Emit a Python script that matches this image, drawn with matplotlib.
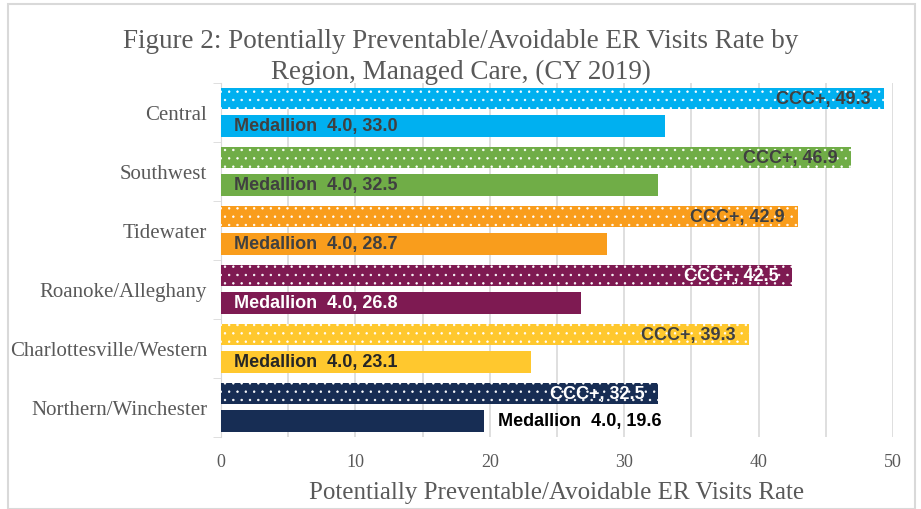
import numpy as np
import matplotlib.pyplot as plt
from matplotlib.patches import Rectangle

regions = ["Central", "Southwest", "Tidewater", "Roanoke/Alleghany",
           "Charlottesville/Western", "Northern/Winchester"]
ccc_plus = [49.3, 46.9, 42.9, 42.5, 39.3, 32.5]
medallion = [33.0, 32.5, 28.7, 26.8, 23.1, 19.6]
colors = ["#00B0F0", "#70AD47", "#F99D1C", "#7E1A52", "#FFC82E", "#172D54"]
ccc_text = ["#404040", "#404040", "#404040", "white", "#404040", "white"]
med_text = ["#404040", "#404040", "#404040", "white", "#262626", "black"]

plt.rcParams['hatch.linewidth'] = 0.5

fig = plt.figure(figsize=(9.21, 5.1), dpi=100)
ax = fig.add_axes([0.24, 0.142, 0.7296, 0.694])

y = np.arange(len(regions))
h = 0.37
off = 0.23

for i in range(len(regions)):
    ax.barh(y[i] - off, ccc_plus[i], height=h, color=colors[i],
            edgecolor="white", linewidth=0, hatch="..", zorder=3)
    ax.barh(y[i] + off, medallion[i], height=h, color=colors[i],
            linewidth=0, zorder=3)
    ax.text(ccc_plus[i] - 1.0, y[i] - off, f"CCC+, {ccc_plus[i]:.1f}",
            ha="right", va="center", fontsize=13, fontweight="bold",
            color=ccc_text[i], family="Liberation Sans", zorder=4)
    label = f"Medallion  4.0, {medallion[i]:.1f}"
    if i == len(regions) - 1:
        ax.text(medallion[i] + 1.0, y[i] + off, label, ha="left", va="center",
                fontsize=13, fontweight="bold", color=med_text[i],
                family="Liberation Sans", zorder=4)
    else:
        ax.text(1.0, y[i] + off, label, ha="left", va="center",
                fontsize=13, fontweight="bold", color=med_text[i],
                family="Liberation Sans", zorder=4)

ax.set_ylim(len(regions) - 0.5, -0.5)
ax.set_xlim(0, 50)
ax.set_yticks(y)
ax.set_yticklabels(regions, family="Liberation Serif", fontsize=15,
                   color="#595959")
ax.set_yticks(np.arange(-0.5, len(regions)), minor=True)
ax.tick_params(axis="y", which="major", length=0, pad=10)
ax.tick_params(axis="y", which="minor", length=6, color="#D9D9D9")
ax.set_xticks(np.arange(0, 51, 10))
ax.set_xticks(np.arange(0, 51, 5), minor=True)
ax.tick_params(axis="x", which="both", length=0, pad=12)
for t in ax.get_xticklabels():
    t.set_family("Liberation Serif")
    t.set_fontsize(13)
    t.set_color("#595959")
ax.grid(axis="x", which="both", color="#D9D9D9", linewidth=1.2, zorder=0)
for s in ["top", "right", "bottom"]:
    ax.spines[s].set_visible(False)
ax.spines["left"].set_color("#D9D9D9")

ax.set_xlabel("Potentially Preventable/Avoidable ER Visits Rate",
              family="Liberation Serif", fontsize=18, color="#595959",
              labelpad=8)

fig.text(0.5, 0.918, "Figure 2: Potentially Preventable/Avoidable ER Visits Rate by",
         ha="center", va="center", family="Liberation Serif", fontsize=19.5,
         color="#595959")
fig.text(0.5, 0.858, "Region, Managed Care, (CY 2019)",
         ha="center", va="center", family="Liberation Serif", fontsize=19.5,
         color="#595959")

fig.patches.append(Rectangle((0.009, 0.0), 0.985, 0.99, transform=fig.transFigure,
                             fill=False, edgecolor="#D9D9D9", linewidth=1.5))

fig.savefig("out.png", dpi=100)
